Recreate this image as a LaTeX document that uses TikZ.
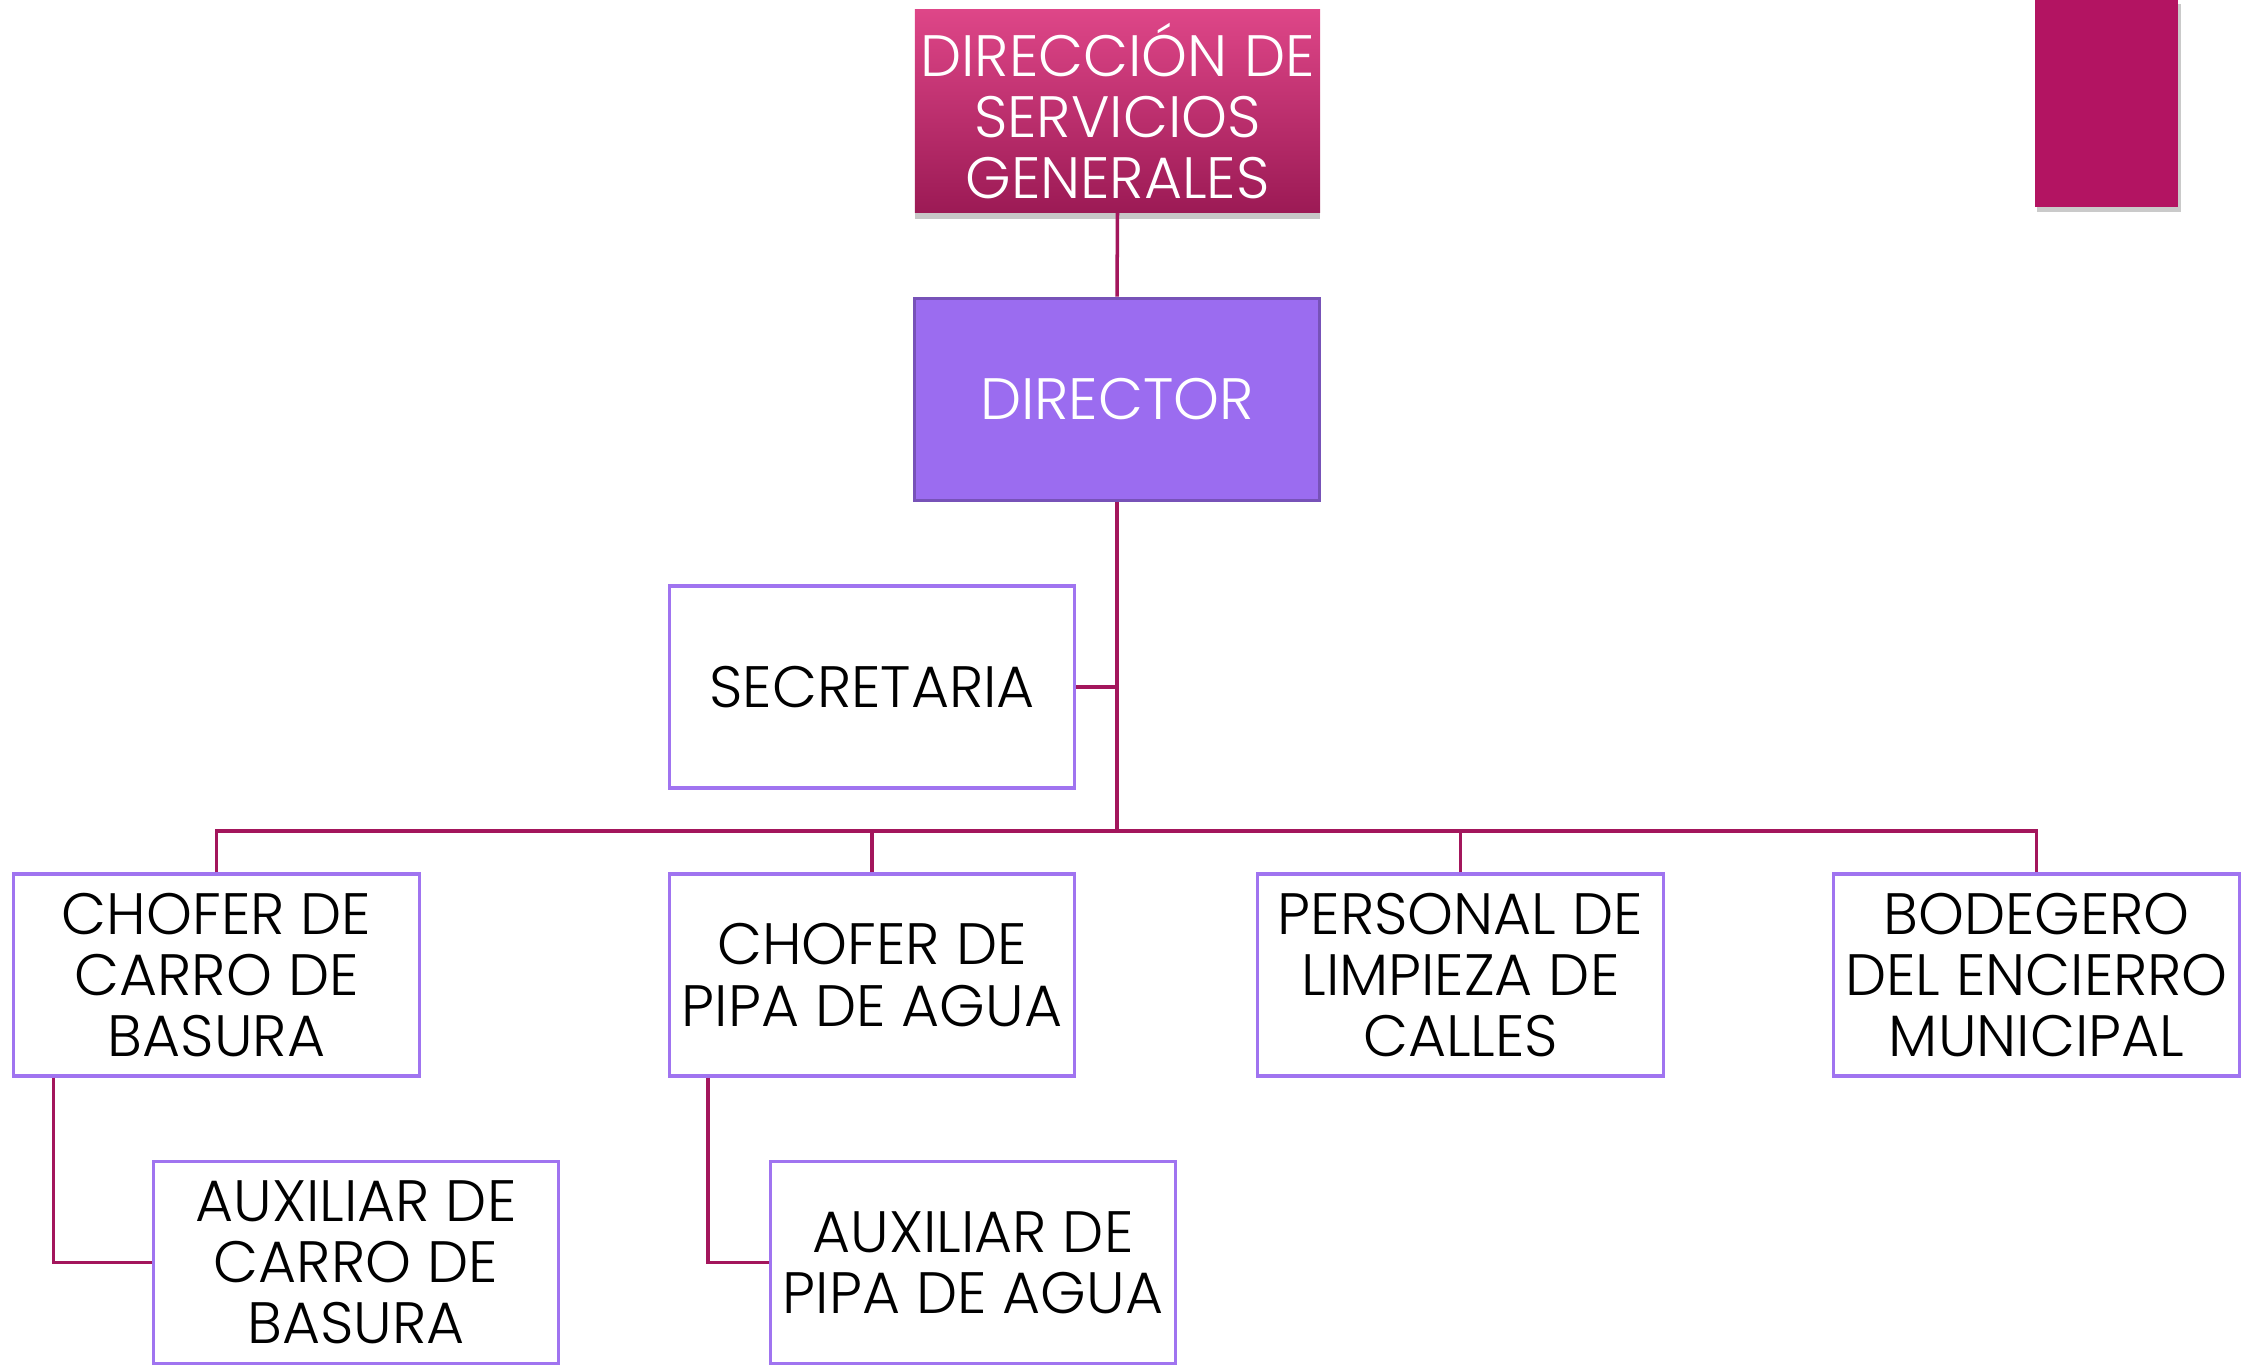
\documentclass[tikz,border=0pt]{standalone}
\usepackage{fontspec}
\setmainfont{Poppins}[UprightFont=* Light]
\usetikzlibrary{shadows}
\definecolor{conn}{HTML}{A3165C}
\definecolor{lav}{HTML}{A074F0}
\definecolor{dirfill}{HTML}{9B6CF0}
\definecolor{dirdraw}{HTML}{7752B8}
\definecolor{pinkbar}{HTML}{B31462}
\definecolor{topA}{HTML}{DE4688}
\definecolor{topB}{HTML}{9C1A55}
\tikzset{
  base/.style={rectangle, minimum width=4.05cm, minimum height=2.02cm, align=center, inner sep=1pt,
    font=\fontsize{16.6}{17.4}\selectfont},
  whitebox/.style={base, draw=lav, line width=0.9pt, fill=white, text=black},
  topbox/.style={base, top color=topA, bottom color=topB, text=white,
    drop shadow={shadow xshift=0cm, shadow yshift=-0.07cm, opacity=0.4, fill=black!55}},
  dirbox/.style={base, fill=dirfill, draw=dirdraw, line width=1pt, text=white},
  link/.style={draw=conn, line width=1pt}
}
\begin{document}
\begin{tikzpicture}[x=0.01cm,y=-0.01cm]
\useasboundingbox (0,0) rectangle (2250,1366);
\fill[black!35, opacity=0.6] (2037,4) rectangle (2181,212);
\fill[pinkbar] (2035,0) rectangle (2178,207);
\node[topbox, text depth=0pt] (top) at (1117.5,111) {DIRECCIÓN DE\\SERVICIOS\\GENERALES};
\node[dirbox] (dir) at (1117,399.5) {DIRECTOR};
\node[whitebox] (sec) at (872,687) {SECRETARIA};
\node[whitebox] (cc) at (216.5,975) {CHOFER DE\\CARRO DE\\BASURA};
\node[whitebox] (cp) at (872,975) {CHOFER DE\\PIPA DE AGUA};
\node[whitebox] (pl) at (1460.5,975) {PERSONAL DE\\LIMPIEZA DE\\CALLES};
\node[whitebox] (bo) at (2036.5,975) {BODEGERO\\DEL ENCIERRO\\MUNICIPAL};
\node[whitebox] (ac) at (356,1262.5) {AUXILIAR DE\\CARRO DE\\BASURA};
\node[whitebox] (ap) at (973,1262.5) {AUXILIAR DE\\PIPA DE AGUA};
\coordinate (bus) at (1117,831);
\draw[link] (top.south) -- (dir.north);
\draw[link] (dir.south) -- (bus);
\draw[link] (sec.east) -- (sec.east -| dir.south);
\draw[link] (cc.north) -- (cc.north |- bus) -- (bo.north |- bus) -- (bo.north);
\draw[link] (cp.north) -- (cp.north |- bus);
\draw[link] (pl.north) -- (pl.north |- bus);
\draw[link] ([xshift=0.41cm]cc.south west) |- (ac.west);
\draw[link] ([xshift=0.40cm]cp.south west) |- (ap.west);
\end{tikzpicture}
\end{document}
